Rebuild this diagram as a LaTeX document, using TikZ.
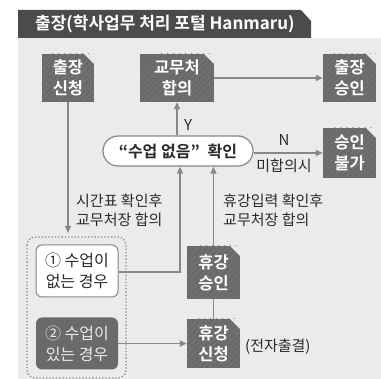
\documentclass[tikz,border=0pt]{standalone}
\usepackage{fontspec}
\setmainfont{Noto Sans CJK KR}[BoldFont={Noto Sans CJK KR Bold}]
\usetikzlibrary{arrows.meta,calc}
\definecolor{panelbg}{HTML}{EBEBEB}
\definecolor{titlebg}{HTML}{4B4B4B}
\definecolor{darkbox}{HTML}{6A6A6A}
\definecolor{stripe}{HTML}{7A7A7A}
\definecolor{linec}{HTML}{878787}
\definecolor{textc}{HTML}{2A2A2A}
\tikzset{
  docbox/.style={fill=darkbox, text=white, font=\bfseries\fontsize{16.5}{21}\selectfont,
    align=center, inner sep=0pt, minimum height=48pt,
    path picture={
      \foreach \i in {-100,-94,...,100}
        \draw[stripe, line width=0.7pt] ([xshift=\i pt, yshift=-60pt]path picture bounding box.center) -- ++(120pt,120pt);
      \fill[panelbg] ([xshift=-10pt]path picture bounding box.north east) -- (path picture bounding box.north east) -- ([yshift=-10pt]path picture bounding box.north east) -- cycle;
    }},
  conn/.style={draw=linec, line width=1.4pt},
  arr/.style={conn, -{Triangle[length=7pt,width=6pt]}},
  lbl/.style={text=textc, font=\fontsize{15}{19}\selectfont, align=left, inner sep=0pt},
  casebox/.style={rounded corners=6pt, minimum width=82pt, minimum height=52pt, align=center, inner sep=0pt, font=\fontsize{16}{21}\selectfont}
}
\begin{document}
\begin{tikzpicture}[x=1pt,y=-1pt]
\useasboundingbox (0,0) rectangle (381,379);
% panel and title
\fill[panelbg] (18,38) rectangle (381,379);
\fill[titlebg] (18,10) -- (301,10) -- (311,21) -- (311,38) -- (18,38) -- cycle;
\node[text=white, font=\bfseries\fontsize{17}{20}\selectfont, anchor=west, inner sep=0pt] (title) at (35,24) {출장(학사업무 처리 포털 Hanmaru)};
% doc boxes
\node[docbox, minimum width=52pt] (sq) at (68,78) {출장\\신청};
\node[docbox, minimum width=74pt] (gm) at (177,78) {교무처\\합의};
\node[docbox, minimum width=53pt] (sa) at (349.5,78) {출장\\승인};
\node[docbox, minimum width=53pt, minimum height=50pt] (nb) at (349.5,153) {승인\\불가};
\node[docbox, minimum width=53pt, minimum height=53pt] (hs) at (213.5,272.5) {휴강\\승인};
\node[docbox, minimum width=53pt, minimum height=49pt] (hq) at (213.5,343.5) {휴강\\신청};
% pill
\node[draw=linec, line width=1.2pt, fill=white, rounded corners=15pt, minimum width=150pt, minimum height=30pt, inner sep=0pt, text=textc, font=\bfseries\fontsize{16}{18}\selectfont] (pill) at (178,151) {“수업 없음”\enspace 확인};
% cases
\draw[linec, line width=1.3pt, dotted, rounded corners=8pt] (27,237) rectangle (126,378);
\node[casebox, draw=linec, line width=1pt, fill=white, text=textc] (c1) at (77,271) {① 수업이\\없는 경우};
\node[casebox, fill=darkbox, text=white!92!black] (c2) at (77,343.5) {② 수업이\\있는 경우};
% connectors
\coordinate (sqend) at (68,233);
\draw[arr] (sq.south) -- (sqend);
\draw[arr] (pill.north -| gm.south) -- (gm.south);
\draw[arr] (gm.east) -- (sa.west);
\draw[arr] (pill.east |- nb.west) -- (nb.west);
\coordinate (c1turn) at (180,272);
\draw[arr] (c1.east |- c1turn) -- (c1turn) -- (c1turn |- pill.south);
\draw[arr] (hs.north) -- (hs.north |- pill.south);
\draw[conn] (hq.north) -- (hs.south);
\draw[arr] (c2.east |- hq.west) -- (hq.west);
% labels
\node[lbl] (ly) at (188,125) {Y};
\node[lbl] (ln) at (284,140) {N};
\node[lbl] (lm) at (284,166) {미합의시};
\node[lbl, anchor=west] (l1) at (76,210) {시간표 확인후\\교무처장 합의};
\node[lbl, anchor=west] (l2) at (223,210) {휴강입력 확인후\\교무처장 합의};
\node[lbl, anchor=west] (l3) at (245,347) {(전자출결)};
\end{tikzpicture}
\end{document}
